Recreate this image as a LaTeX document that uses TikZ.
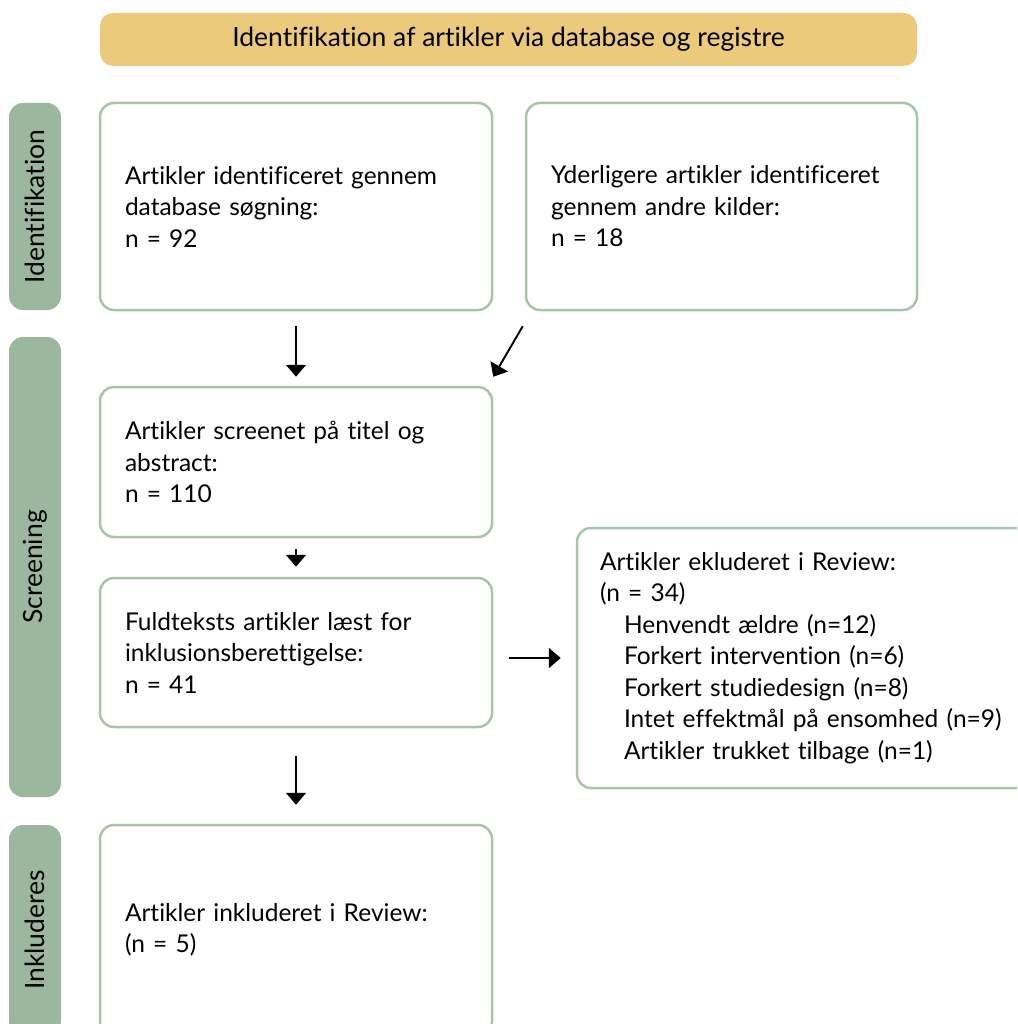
\documentclass[tikz,border=0pt]{standalone}
\usepackage{fontspec}
\setmainfont{Lato}[Ligatures=NoCommon]
\usetikzlibrary{arrows.meta}
\definecolor{bannerc}{HTML}{EBCB7B}
\definecolor{sidec}{HTML}{9BB79D}
\definecolor{borderc}{HTML}{A8C5AA}
\begin{document}
\begin{tikzpicture}[x=1pt,y=1pt,
  font=\fontsize{24.5pt}{31.5pt}\selectfont,
  bigfont/.style={font=\fontsize{26.5pt}{31.5pt}\selectfont},
  box/.style={draw=borderc, line width=2.5pt, rounded corners=14pt, fill=white,
    align=left, inner xsep=25pt, inner ysep=0pt, anchor=center},
  side/.style={fill=sidec, rounded corners=14pt, rotate=90, anchor=center,
    minimum height=52pt, inner sep=0pt, bigfont},
  arr/.style={line width=1.9pt, -{Triangle[width=20pt,length=12pt]}}]
\useasboundingbox (0,0) rectangle (1017,-1024);
\clip (0,0) rectangle (1017,-1024);
\node[fill=bannerc, rounded corners=13pt, minimum width=817pt, minimum height=53pt, inner sep=0pt, bigfont]
  (banner) at (508.5,-39.5) {Identifikation af artikler via database og registre};
\node[side, minimum width=207pt] (sI) at (35,-206.5) {Identifikation};
\node[side, minimum width=460pt] (sS) at (35,-567) {Screening};
\node[side, minimum width=210pt] (sK) at (35,-930) {Inkluderes};
\node[box, text width=342pt, minimum height=207pt] (b1) at (296,-206.5)
  {Artikler identificeret gennem\\database søgning:\\n = 92};
\node[box, text width=341pt, minimum height=207pt] (b2) at (721.5,-206.5)
  {Yderligere artikler identificeret\\gennem andre kilder:\\n = 18};
\node[box, text width=342pt, minimum height=150pt] (b3) at (296,-462)
  {Artikler screenet på titel og\\abstract:\\n = 110};
\node[box, text width=342pt, minimum height=149pt] (b4) at (296,-652.5)
  {Fuldteksts artikler læst for\\inklusionsberettigelse:\\n = 41};
\node[box, text width=407pt, inner xsep=23pt, minimum height=260pt] (b5) at (803.5,-658)
  {Artikler ekluderet i Review:\\(n = 34)\\
   \hspace*{24pt}Henvendt ældre (n=12)\\
   \hspace*{24pt}Forkert intervention (n=6)\\
   \hspace*{24pt}Forkert studiedesign (n=8)\\
   \hspace*{24pt}Intet effektmål på ensomhed (n=9)\\
   \hspace*{24pt}Artikler trukket tilbage (n=1)};
\node[box, text width=342pt, minimum height=210pt] (b6) at (296,-930)
  {Artikler inkluderet i Review:\\(n = 5)};
\coordinate (d1) at ([xshift=-2pt,yshift=-15pt]b2.south west);
\coordinate (d2) at ([yshift=9pt]b3.north east);
\draw[arr, shorten <=15pt, shorten >=9pt] (b1.south) -- (b3.north);
\draw[arr] (d1) -- (d2);
\draw[arr, shorten <=11pt, shorten >=10pt] (b3.south) -- (b4.north);
\draw[arr, shorten <=28pt, shorten >=19pt] (b4.south) -- (b6.north);
\draw[arr, shorten <=16pt, shorten >=15pt] (b4.east |- b5.west) -- (b5.west);
\end{tikzpicture}
\end{document}
